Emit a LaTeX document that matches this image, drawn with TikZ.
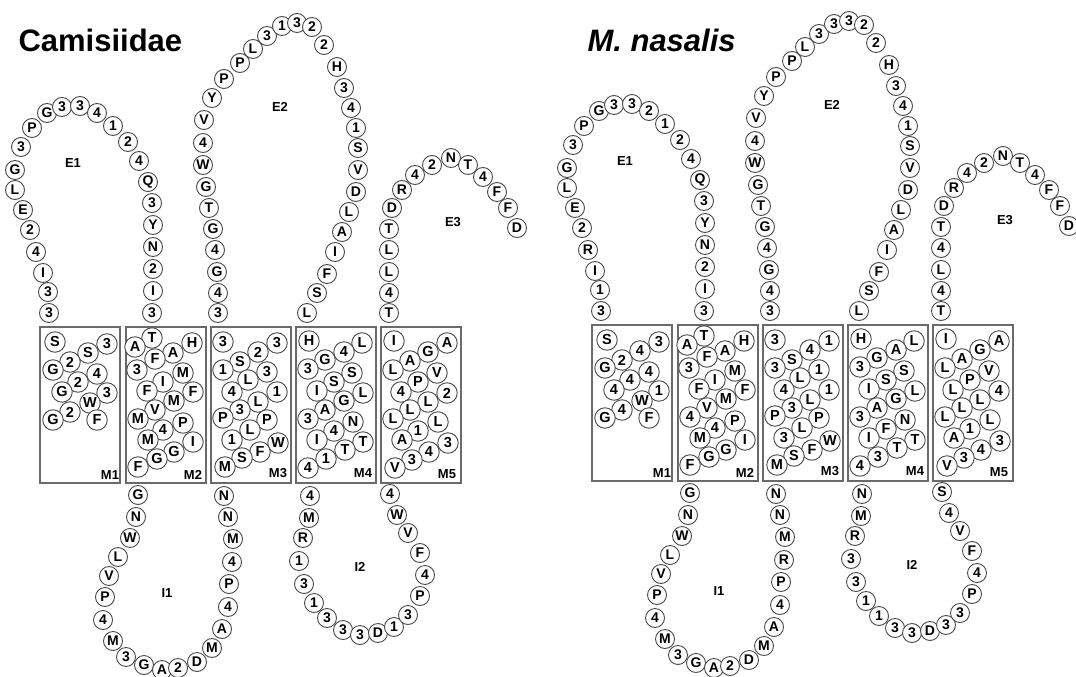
\documentclass[tikz,border=0pt]{standalone}
\usepackage{fontspec}
\setmainfont{Liberation Sans}
\definecolor{ring}{HTML}{4A4A4A}
\definecolor{wall}{HTML}{6A6A6A}

\begin{document}
\begin{tikzpicture}[x=1pt,y=-1pt,res/.style={circle,draw=ring,line width=0.9pt,fill=white,inner sep=0pt,minimum size=19pt,font=\bfseries\fontsize{14}{14}\selectfont},hel/.style={res,minimum size=20.5pt,font=\bfseries\fontsize{14.5}{14.5}\selectfont},tmbox/.style={draw=wall,line width=1.3pt,minimum width=80pt,minimum height=156pt,inner sep=0pt},tag/.style={font=\bfseries\fontsize{13}{13}\selectfont},title/.style={anchor=base west,font=\bfseries\fontsize{31}{31}\selectfont}]
    \useasboundingbox (0,0) rectangle (1076,677);
    \node[title] (ctitle) at (15,52) {Camisiidae};
    \node[title,font=\bfseries\itshape\fontsize{31}{31}\selectfont] (mtitle) at (584,52) {M. nasalis};
    \begin{scope}
      \node[tmbox] (cM1) at (80,405) {};
      \node[tmbox] (cM2) at (166,405) {};
      \node[tmbox] (cM3) at (251,405) {};
      \node[tmbox] (cM4) at (336,405) {};
      \node[tmbox] (cM5) at (421,405) {};
      \foreach \x/\y/\t [count=\i] in {49/313/3,48/292/3,43/273/I,36/252/4,30/230/2,23/210/E,15/190/L,15/170/G,21/147/3,32/128/P,47/113/G,62/107/3,80/106/3,97/113/4,113/126/1,128/142/2,139/161/4,148/182/Q,152/203/3,153/225/Y,153/247/N,153/269/2,153/291/I,152/313/3}
        \node[res] (cE1-\i) at (\x,\y) {\t};
      \foreach \x/\y/\t [count=\i] in {218/313/3,218/293/4,217/272/G,215/250/4,213/229/G,209/208/T,206/187/G,203/165/W,203/143/4,204/120/V,212/98/Y,224/79/P,240/63/P,253/49/L,267/36/3,282/26/1,297/23/3,312/27/2,324/45/2,337/67/H,344/88/3,351/108/4,356/128/1,358/148/S,358/170/V,356/192/D,349/212/L,342/232/A,335/252/I,327/274/F,317/293/S,307/313/L}
        \node[res] (cE2-\i) at (\x,\y) {\t};
      \foreach \x/\y/\t [count=\i] in {389/313/T,389/293/4,389/272/L,389/250/L,389/229/T,392/208/D,402/190/R,415/175/4,432/165/2,451/158/N,468/165/T,483/177/4,497/192/F,508/208/F,517/228/D}
        \node[res] (cE3-\i) at (\x,\y) {\t};
      \foreach \x/\y/\t [count=\i] in {55/342/S,107/344/3,88/353/S,70/362/2,53/370/G,97/374/4,78/382/2,62/392/G,107/393/3,90/403/W,70/412/2,53/420/G,97/420/F}
        \node[hel] (cH1-\i) at (\x,\y) {\t};
      \foreach \x/\y/\t [count=\i] in {152/338/T,135/347/A,173/353/A,192/343/H,155/359/F,137/370/3,183/373/M,163/382/I,147/391/F,193/392/F,174/401/M,155/410/V,138/419/M,183/423/P,163/430/4,148/440/M,193/442/I,174/452/G,157/459/G,138/467/F}
        \node[hel] (cH2-\i) at (\x,\y) {\t};
      \foreach \x/\y/\t [count=\i] in {223/342/3,277/343/3,258/352/2,240/362/S,223/370/1,267/372/3,248/380/L,232/392/4,277/392/1,258/402/L,240/410/3,223/418/P,267/420/P,250/430/L,232/440/1,278/443/W,260/452/F,242/458/S,225/467/M}
        \node[hel] (cH3-\i) at (\x,\y) {\t};
      \foreach \x/\y/\t [count=\i] in {309/341/H,362/343/L,344/352/4,325/360/G,308/369/3,352/373/S,334/382/S,317/391/I,363/393/L,344/401/G,325/410/A,308/419/3,353/422/N,334/431/4,317/440/I,363/442/T,345/450/T,326/459/1,308/468/4}
        \node[hel] (cH4-\i) at (\x,\y) {\t};
      \foreach \x/\y/\t [count=\i] in {394/341/I,447/343/A,428/352/G,410/361/A,393/370/L,437/373/V,418/382/P,401/392/4,447/393/2,428/402/L,410/410/L,393/419/L,438/422/L,418/431/1,402/440/A,448/443/3,429/452/4,412/460/3,395/468/V}
        \node[hel] (cH5-\i) at (\x,\y) {\t};
      \foreach \x/\y/\t [count=\i] in {138/495/G,136/517/N,130/538/W,118/557/L,109/576/V,105/597/P,103/620/4,113/641/M,126/657/3,144/665/G,162/670/A,178/668/2,197/662/D,212/648/M,222/629/A,228/607/4,229/584/P,232/562/4,233/539/M,228/517/N,224/496/N}
        \node[res] (cI1-\i) at (\x,\y) {\t};
      \foreach \x/\y/\t [count=\i] in {310/496/4,309/518/M,303/538/R,299/561/1,304/584/3,314/603/1,327/618/3,343/630/3,360/635/3,378/633/D,394/627/1,408/615/3,420/596/P,425/575/4,420/553/F,408/533/V,397/515/W,390/494/4}
        \node[res] (cI2-\i) at (\x,\y) {\t};
      \foreach \x/\y/\t in {73/163/E1,280/107/E2,453/222/E3,167/593/I1,360/567/I2,110/475/M1,193/475/M2,278/473/M3,363/473/M4,447/474/M5}
        \node[tag] (c\t) at (\x,\y) {\t};
    \end{scope}
    \begin{scope}[shift={(552,-2)}]
      \node[tmbox] (mM1) at (80,405) {};
      \node[tmbox] (mM2) at (166,405) {};
      \node[tmbox] (mM3) at (251,405) {};
      \node[tmbox] (mM4) at (336,405) {};
      \node[tmbox] (mM5) at (421,405) {};
      \foreach \x/\y/\t [count=\i] in {49/313/3,48/292/1,43/273/I,36/252/R,30/230/2,23/210/E,15/190/L,15/170/G,21/147/3,32/128/P,47/113/G,62/107/3,80/106/3,97/113/2,113/126/1,128/142/2,139/161/4,148/182/Q,152/203/3,153/225/Y,153/247/N,153/269/2,153/291/I,152/313/3}
        \node[res] (mE1-\i) at (\x,\y) {\t};
      \foreach \x/\y/\t [count=\i] in {218/313/3,218/293/4,217/272/G,215/250/4,213/229/G,209/208/T,206/187/G,203/165/W,203/143/4,204/120/V,212/98/Y,224/79/P,240/63/P,253/49/L,267/36/3,282/26/3,297/23/3,312/27/2,324/45/2,337/67/H,344/88/3,351/108/4,356/128/1,358/148/S,358/170/V,356/192/D,349/212/L,342/232/A,335/252/I,327/274/F,317/293/S,307/313/L}
        \node[res] (mE2-\i) at (\x,\y) {\t};
      \foreach \x/\y/\t [count=\i] in {389/313/T,389/293/4,389/272/L,389/250/4,389/229/T,392/208/D,402/190/R,415/175/4,432/165/2,451/158/N,468/165/T,483/177/4,497/192/F,508/208/F,517/228/D}
        \node[res] (mE3-\i) at (\x,\y) {\t};
      \foreach \x/\y/\t [count=\i] in {55/342/S,107/344/3,88/353/4,70/362/2,53/370/G,97/374/4,78/382/4,62/392/4,107/393/1,90/403/W,70/412/4,53/420/G,97/420/F}
        \node[hel] (mH1-\i) at (\x,\y) {\t};
      \foreach \x/\y/\t [count=\i] in {152/338/T,135/347/A,173/353/A,192/343/H,155/359/F,137/370/3,183/373/M,163/382/I,147/391/F,193/392/F,174/401/M,155/410/V,138/419/4,183/423/P,163/430/4,148/440/M,193/442/I,174/452/G,157/459/G,138/467/F}
        \node[hel] (mH2-\i) at (\x,\y) {\t};
      \foreach \x/\y/\t [count=\i] in {223/342/3,277/343/1,258/352/4,240/362/S,223/370/3,267/372/1,248/380/L,232/392/4,277/392/1,258/402/L,240/410/3,223/418/P,267/420/P,250/430/L,232/440/3,278/443/W,260/452/F,242/458/S,225/467/M}
        \node[hel] (mH3-\i) at (\x,\y) {\t};
      \foreach \x/\y/\t [count=\i] in {309/341/H,362/343/L,344/352/A,325/360/G,308/369/3,352/373/S,334/382/S,317/391/I,363/393/L,344/401/G,325/410/A,308/419/3,353/422/N,334/431/F,317/440/I,363/442/T,345/450/T,326/459/3,308/468/4}
        \node[hel] (mH4-\i) at (\x,\y) {\t};
      \foreach \x/\y/\t [count=\i] in {394/341/I,447/343/A,428/352/G,410/361/A,393/370/L,437/373/V,418/382/P,401/392/L,447/393/4,428/402/L,410/410/L,393/419/L,438/422/L,418/431/1,402/440/A,448/443/3,429/452/4,412/460/3,395/468/V}
        \node[hel] (mH5-\i) at (\x,\y) {\t};
      \foreach \x/\y/\t [count=\i] in {138/495/G,136/517/N,130/538/W,118/557/L,109/576/V,105/597/P,103/620/4,113/641/M,126/657/3,144/665/G,162/670/A,178/668/2,197/662/D,212/648/M,222/629/A,228/607/4,229/584/P,232/562/R,233/539/M,228/517/N,224/496/N}
        \node[res] (mI1-\i) at (\x,\y) {\t};
      \foreach \x/\y/\t [count=\i] in {310/496/N,309/518/M,303/538/R,299/561/3,304/584/3,314/603/1,327/618/1,343/630/3,360/635/3,378/633/D,394/627/3,408/615/3,420/596/P,425/575/4,420/553/F,408/533/V,397/515/4,390/494/S}
        \node[res] (mI2-\i) at (\x,\y) {\t};
      \foreach \x/\y/\t in {73/163/E1,280/107/E2,453/222/E3,167/593/I1,360/567/I2,110/475/M1,193/475/M2,278/473/M3,363/473/M4,447/474/M5}
        \node[tag] (m\t) at (\x,\y) {\t};
    \end{scope}
  \end{tikzpicture}
\end{document}
